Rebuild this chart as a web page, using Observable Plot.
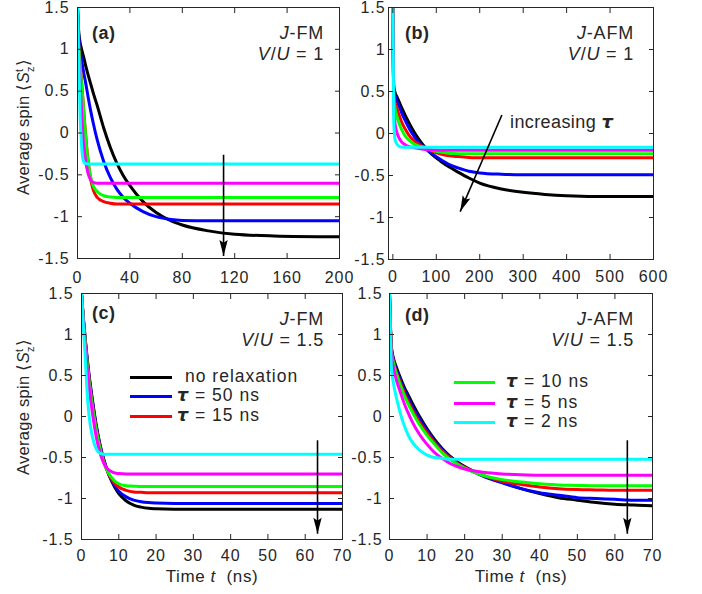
<!DOCTYPE html>
<html><head><meta charset="utf-8">
<script src="https://cdn.jsdelivr.net/npm/d3@7"></script>
<script src="https://cdn.jsdelivr.net/npm/@observablehq/plot@0.6"></script>
<style>
body{margin:0;background:#fff;}
#fig{position:relative;width:702px;height:594px;font-family:"Liberation Sans",Arial,Helvetica,sans-serif;color:#262626;overflow:hidden;background:#fff;}
.pn{position:absolute;}
.t{position:absolute;white-space:nowrap;line-height:1;overflow:visible;}
.sw{position:absolute;height:3px;}
.tau{font-style:italic;font-family:"DejaVu Sans",sans-serif;font-weight:bold;line-height:0.9;}
</style></head><body><div id="fig"></div><script>
// ---------- data ----------
const seriesNames = ["no relaxation", "τ = 50 ns", "τ = 15 ns", "τ = 10 ns", "τ = 5 ns", "τ = 2 ns"];
const seriesColors = ["#000000", "#0000ff", "#ff0000", "#00ff00", "#ff00ff", "#00ffff"];
const yTicks = [-1.5, -1, -0.5, 0, 0.5, 1, 1.5];

// (a) J-FM, V/U = 1
const tA = [0, 0.5, 1, 2, 3, 4, 5, 6, 8, 10, 12, 15, 20, 25, 30, 35, 40, 50, 60, 70, 80, 100, 120, 150, 200];
const aNoRelax = [1.5, 1.32, 1.2, 1.08, 1.01, 0.95, 0.89, 0.82, 0.7, 0.59, 0.48, 0.33, 0.06, -0.17, -0.36, -0.51, -0.63, -0.82, -0.95, -1.04, -1.1, -1.17, -1.21, -1.23, -1.24];
const aTau50 = [1.5, 1.28, 1.15, 1.0, 0.89, 0.79, 0.7, 0.62, 0.44, 0.27, 0.12, -0.08, -0.34, -0.53, -0.67, -0.77, -0.84, -0.94, -1.0, -1.03, -1.045, -1.05, -1.05, -1.05, -1.05];
const aTau15 = [1.5, 1.2, 1.05, 0.84, 0.64, 0.43, 0.22, 0.02, -0.32, -0.55, -0.68, -0.77, -0.82, -0.84, -0.85, -0.85, -0.85, -0.85, -0.85, -0.85, -0.85, -0.85, -0.85, -0.85, -0.85];
const aTau10 = [1.5, 1.18, 1.02, 0.8, 0.6, 0.42, 0.2, 0.0, -0.34, -0.52, -0.63, -0.7, -0.75, -0.765, -0.77, -0.77, -0.77, -0.77, -0.77, -0.77, -0.77, -0.77, -0.77, -0.77, -0.77];
const aTau5 = [1.5, 1.1, 0.9, 0.58, 0.3, 0.0, -0.18, -0.31, -0.48, -0.56, -0.59, -0.6, -0.6, -0.6, -0.6, -0.6, -0.6, -0.6, -0.6, -0.6, -0.6, -0.6, -0.6, -0.6, -0.6];
const aTau2 = [1.5, 1.1, 0.85, 0.2, -0.12, -0.3, -0.35, -0.365, -0.37, -0.37, -0.37, -0.37, -0.37, -0.37, -0.37, -0.37, -0.37, -0.37, -0.37, -0.37, -0.37, -0.37, -0.37, -0.37, -0.37];

// (b) J-AFM, V/U = 1
const tB = [0, 2, 5, 10, 15, 20, 30, 40, 50, 60, 75, 90, 110, 130, 150, 175, 200, 250, 300, 350, 400, 500, 600];
const bNoRelax = [1.5, 0.56, 0.49, 0.43, 0.37, 0.31, 0.2, 0.1, 0.01, -0.07, -0.17, -0.25, -0.33, -0.4, -0.46, -0.53, -0.59, -0.66, -0.7, -0.725, -0.74, -0.75, -0.75];
const bTau50 = [1.5, 0.53, 0.45, 0.38, 0.32, 0.25, 0.14, 0.04, -0.04, -0.11, -0.18, -0.24, -0.31, -0.37, -0.41, -0.45, -0.47, -0.485, -0.49, -0.49, -0.49, -0.49, -0.49];
const bTau15 = [1.5, 0.47, 0.37, 0.29, 0.21, 0.14, 0.04, -0.04, -0.09, -0.13, -0.17, -0.21, -0.245, -0.265, -0.275, -0.285, -0.29, -0.29, -0.29, -0.29, -0.29, -0.29, -0.29];
const bTau10 = [1.5, 0.42, 0.3, 0.19, 0.11, 0.05, -0.04, -0.09, -0.13, -0.15, -0.17, -0.2, -0.22, -0.235, -0.24, -0.24, -0.24, -0.24, -0.24, -0.24, -0.24, -0.24, -0.24];
const bTau5 = [1.5, 0.3, 0.12, 0.0, -0.06, -0.1, -0.14, -0.16, -0.17, -0.18, -0.19, -0.195, -0.2, -0.2, -0.2, -0.2, -0.2, -0.2, -0.2, -0.2, -0.2, -0.2, -0.2];
const bTau2 = [1.5, 0.15, -0.07, -0.13, -0.155, -0.162, -0.165, -0.165, -0.165, -0.165, -0.165, -0.165, -0.165, -0.165, -0.165, -0.165, -0.165, -0.165, -0.165, -0.165, -0.165, -0.165, -0.165];

// (c) J-FM, V/U = 1.5
const tC = [0, 0.5, 1, 1.5, 2, 3, 4, 5, 6, 7, 8, 9, 10, 12, 14, 16, 18, 20, 25, 30, 40, 50, 60, 70];
const cNoRelax = [1.5, 1.2, 0.95, 0.72, 0.52, 0.18, -0.12, -0.35, -0.53, -0.67, -0.78, -0.87, -0.94, -1.03, -1.08, -1.105, -1.12, -1.125, -1.13, -1.13, -1.13, -1.13, -1.13, -1.13];
const cTau50 = [1.5, 1.19, 0.93, 0.7, 0.5, 0.16, -0.13, -0.36, -0.53, -0.67, -0.77, -0.85, -0.91, -0.98, -1.02, -1.04, -1.05, -1.055, -1.06, -1.06, -1.06, -1.06, -1.06, -1.06];
const cTau15 = [1.5, 1.18, 0.91, 0.68, 0.47, 0.12, -0.16, -0.38, -0.55, -0.67, -0.76, -0.82, -0.86, -0.9, -0.92, -0.925, -0.93, -0.93, -0.93, -0.93, -0.93, -0.93, -0.93, -0.93];
const cTau10 = [1.5, 1.17, 0.9, 0.66, 0.45, 0.1, -0.18, -0.4, -0.56, -0.67, -0.74, -0.79, -0.82, -0.845, -0.85, -0.855, -0.855, -0.855, -0.855, -0.855, -0.855, -0.855, -0.855, -0.855];
const cTau5 = [1.5, 1.15, 0.85, 0.6, 0.38, 0.02, -0.26, -0.45, -0.57, -0.64, -0.67, -0.69, -0.695, -0.7, -0.7, -0.7, -0.7, -0.7, -0.7, -0.7, -0.7, -0.7, -0.7, -0.7];
const cTau2 = [1.5, 1.1, 0.72, 0.3, 0.02, -0.26, -0.4, -0.45, -0.46, -0.46, -0.46, -0.46, -0.46, -0.46, -0.46, -0.46, -0.46, -0.46, -0.46, -0.46, -0.46, -0.46, -0.46, -0.46];

// (d) J-AFM, V/U = 1.5
const tD = [0, 0.5, 1, 2, 3, 4, 5, 6, 8, 10, 12, 14, 16, 18, 20, 25, 30, 35, 40, 45, 50, 55, 60, 65, 70];
const dNoRelax = [1.5, 0.85, 0.72, 0.58, 0.46, 0.35, 0.26, 0.17, 0.0, -0.15, -0.28, -0.39, -0.48, -0.55, -0.61, -0.72, -0.8, -0.88, -0.94, -0.99, -1.02, -1.05, -1.07, -1.08, -1.09];
const dTau50 = [1.5, 0.84, 0.7, 0.55, 0.43, 0.32, 0.22, 0.13, -0.03, -0.17, -0.3, -0.4, -0.49, -0.56, -0.62, -0.73, -0.81, -0.88, -0.93, -0.96, -0.99, -1.0, -1.01, -1.02, -1.02];
const dTau15 = [1.5, 0.82, 0.68, 0.52, 0.4, 0.28, 0.18, 0.09, -0.07, -0.2, -0.32, -0.42, -0.5, -0.57, -0.62, -0.72, -0.79, -0.83, -0.86, -0.88, -0.89, -0.895, -0.9, -0.9, -0.9];
const dTau10 = [1.5, 0.8, 0.66, 0.5, 0.37, 0.25, 0.15, 0.06, -0.1, -0.23, -0.34, -0.44, -0.52, -0.58, -0.63, -0.72, -0.77, -0.8, -0.82, -0.835, -0.84, -0.845, -0.845, -0.845, -0.845];
const dTau5 = [1.5, 0.75, 0.6, 0.42, 0.28, 0.15, 0.04, -0.06, -0.22, -0.34, -0.44, -0.51, -0.57, -0.61, -0.64, -0.68, -0.7, -0.71, -0.715, -0.715, -0.715, -0.715, -0.715, -0.715, -0.715];
const dTau2 = [1.5, 0.6, 0.42, 0.2, 0.02, -0.12, -0.23, -0.31, -0.41, -0.47, -0.5, -0.51, -0.52, -0.52, -0.52, -0.52, -0.52, -0.52, -0.52, -0.52, -0.52, -0.52, -0.52, -0.52, -0.52];

// arrows (data coordinates)
const arrowA = [{x1: 111.5, y1: -0.26, x2: 111.5, y2: -1.47}];
const arrowB = [{x1: 251, y1: 0.22, x2: 155, y2: -0.93}];
const arrowC = [{x1: 63.3, y1: -0.29, x2: 63.3, y2: -1.43}];
const arrowD = [{x1: 63.3, y1: -0.29, x2: 63.3, y2: -1.43}];

const xTicksA = [0, 40, 80, 120, 160, 200];
const xTicksB = [0, 100, 200, 300, 400, 500, 600];
const xTicksCD = [0, 10, 20, 30, 40, 50, 60, 70];

// ---------- drawing ----------
const fig = document.getElementById("fig");
const fmt = d => String(d);
const FONT = '"Liberation Sans", Arial, Helvetica, sans-serif';

function tidy(t, cols) {
  const rows = [];
  cols.forEach((vals, i) => vals.forEach((v, j) => rows.push({t: t[j], v, s: seriesNames[i]})));
  return rows;
}

// filled, slightly notched arrowhead (tip at the vector's end)
const headShape = {
  draw(ctx, l) {
    const w = l * 0.26;
    ctx.moveTo(0, -l);
    ctx.lineTo(w, 0);
    ctx.lineTo(0, -l * 0.18);
    ctx.lineTo(-w, 0);
    ctx.closePath();
  }
};

function panel(cfg) {
  const rows = tidy(cfg.t, cfg.series);
  const fw = cfg.width - cfg.mL - cfg.mR, fh = cfg.height - cfg.mT - cfg.mB;
  const xs = fw / (cfg.xDomain[1] - cfg.xDomain[0]), ys = fh / 3;
  const heads = cfg.arrow.map(a => {
    const dx = (a.x2 - a.x1) * xs, dy = -(a.y2 - a.y1) * ys;
    return {x: a.x2, y: a.y2, r: Math.atan2(dx, -dy) * 180 / Math.PI};
  });
  const chart = Plot.plot({
    width: cfg.width, height: cfg.height,
    marginLeft: cfg.mL, marginRight: cfg.mR, marginTop: cfg.mT, marginBottom: cfg.mB,
    x: {domain: cfg.xDomain},
    y: {domain: [-1.5, 1.5]},
    color: {domain: seriesNames, range: seriesColors},
    style: {fontSize: "16px", fontFamily: FONT, color: "#262626", background: "transparent", overflow: "visible", letterSpacing: "0.9px"},
    marks: [
      Plot.line(rows, {x: "t", y: "v", z: "s", stroke: "s", strokeWidth: 3, curve: "monotone-x", clip: true}),
      Plot.link(cfg.arrow, {x1: "x1", y1: "y1", x2: "x2", y2: "y2", stroke: "#000", strokeWidth: 1.6}),
      Plot.vector(heads, {x: "x", y: "y", rotate: "r", length: 16, anchor: "end", shape: headShape, fill: "#000", stroke: "none"}),
      Plot.frame({stroke: "#262626", strokeWidth: 1}),
      Plot.axisX({ticks: cfg.xTicks, tickSize: 0, tickPadding: cfg.xPad, tickFormat: fmt, label: null}),
      Plot.axisY({ticks: yTicks, tickSize: 0, tickPadding: cfg.yPad, tickFormat: fmt, label: null}),
      Plot.axisX({ticks: cfg.xTicks, anchor: "bottom", tickSize: 5, insetBottom: 5, tickFormat: () => "", label: null}),
      Plot.axisX({ticks: cfg.xTicks, anchor: "top", tickSize: 5, insetTop: 5, tickFormat: () => "", label: null}),
      Plot.axisY({ticks: yTicks, anchor: "left", tickSize: 5, insetLeft: 5, tickFormat: () => "", label: null}),
      Plot.axisY({ticks: yTicks, anchor: "right", tickSize: 5, insetRight: 5, tickFormat: () => "", label: null})
    ]
  });
  const wrap = document.createElement("div");
  wrap.className = "pn";
  wrap.style.left = cfg.left + "px";
  wrap.style.top = cfg.top + "px";
  wrap.append(chart);
  fig.append(wrap);
}

panel({left: 0, top: 0, width: 350, height: 292, mL: 77, mR: 11, mT: 7, mB: 34, xPad: 13, yPad: 8,
  t: tA, series: [aNoRelax, aTau50, aTau15, aTau10, aTau5, aTau2], xDomain: [0, 200], xTicks: xTicksA, arrow: arrowA});
panel({left: 350, top: 0, width: 352, height: 292, mL: 38, mR: 49, mT: 7, mB: 33, xPad: 11, yPad: 3,
  t: tB, series: [bNoRelax, bTau50, bTau15, bTau10, bTau5, bTau2], xDomain: [-10, 600], xTicks: xTicksB, arrow: arrowB});
panel({left: 0, top: 285, width: 350, height: 290, mL: 81, mR: 8, mT: 8, mB: 36, xPad: 10, yPad: 8,
  t: tC, series: [cNoRelax, cTau50, cTau15, cTau10, cTau5, cTau2], xDomain: [0, 70], xTicks: xTicksCD, arrow: arrowC});
panel({left: 350, top: 285, width: 352, height: 290, mL: 39, mR: 50, mT: 8, mB: 36, xPad: 10, yPad: 7,
  t: tD, series: [dNoRelax, dTau50, dTau15, dTau10, dTau5, dTau2], xDomain: [0, 70], xTicks: xTicksCD, arrow: arrowD});

// ---------- text overlays ----------
function txt(html, o) {
  const d = document.createElement("div");
  d.className = "t";
  d.innerHTML = html;
  const size = o.size || 18;
  d.style.fontSize = size + "px";
  d.style.height = size + "px";
  d.style.letterSpacing = (o.ls != null ? o.ls : 0.8) + "px";
  if (o.bold) d.style.fontWeight = "bold";
  if (o.right != null) d.style.right = (702 - o.right) + "px"; else d.style.left = o.left + "px";
  d.style.top = (o.cy - 0.5 * size) + "px";
  fig.append(d);
  return d;
}
function ctext(html, cx, cy, size, rotate, ls) {
  const d = document.createElement("div");
  d.className = "t";
  d.innerHTML = html;
  d.style.fontSize = size + "px";
  d.style.letterSpacing = (ls || 0) + "px";
  d.style.left = cx + "px";
  d.style.top = cy + "px";
  d.style.transform = "translate(-50%,-50%)" + (rotate ? " rotate(-90deg)" : "");
  fig.append(d);
}
function swatch(color, left, cy, w) {
  const d = document.createElement("div");
  d.className = "sw";
  d.style.background = color;
  d.style.left = left + "px";
  d.style.top = (cy - 1.5) + "px";
  d.style.width = w + "px";
  fig.append(d);
}

const tau = '<span class="tau">τ</span>';
const ylab = 'Average spin ⟨<i>S</i><span style="display:inline-block;font-size:11px;line-height:11px;vertical-align:-5px;">t<br>z</span>⟩';
ctext(ylab, 25, 127, 16.5, true, 0.3);
ctext(ylab, 25, 407, 16.5, true, 0.3);
ctext('Time <i>t</i>&nbsp;&nbsp;(ns)', 212, 576, 17, false, 0.6);
ctext('Time <i>t</i>&nbsp;&nbsp;(ns)', 521, 576, 17, false, 0.6);

txt("(a)", {left: 92, cy: 33, size: 18, bold: true, ls: 0.5});
txt("(b)", {left: 405, cy: 33, size: 18, bold: true, ls: 0.5});
txt("(c)", {left: 92, cy: 313, size: 18, bold: true, ls: 0.5});
txt("(d)", {left: 405, cy: 315, size: 18, bold: true, ls: 0.5});

txt("<i>J</i>-FM", {right: 324, cy: 33});
txt("<i>V</i>/<i>U</i> = 1", {right: 324, cy: 54});
txt("<i>J</i>-AFM", {right: 634, cy: 33});
txt("<i>V</i>/<i>U</i> = 1", {right: 634, cy: 54});
txt("<i>J</i>-FM", {right: 324, cy: 319});
txt("<i>V</i>/<i>U</i> = 1.5", {right: 324, cy: 340});
txt("<i>J</i>-AFM", {right: 634, cy: 319});
txt("<i>V</i>/<i>U</i> = 1.5", {right: 634, cy: 340});

txt("increasing " + tau, {left: 510, cy: 122, ls: 0.4});

// legends
const legC = [[0, 377, "no relaxation", 185], [1, 396, tau + " = 50 ns", 177], [2, 416, tau + " = 15 ns", 177]];
legC.forEach(([i, cy, label, lx]) => { swatch(seriesColors[i], 130, cy, 42); txt(label, {left: lx, cy, size: 17.5, ls: 1}); });
const legD = [[3, 382, tau + " = 10 ns"], [4, 403, tau + " = 5 ns"], [5, 422, tau + " = 2 ns"]];
legD.forEach(([i, cy, label]) => { swatch(seriesColors[i], 454, cy, 41); txt(label, {left: 506, cy, size: 17.5, ls: 1}); });
</script></body></html>
